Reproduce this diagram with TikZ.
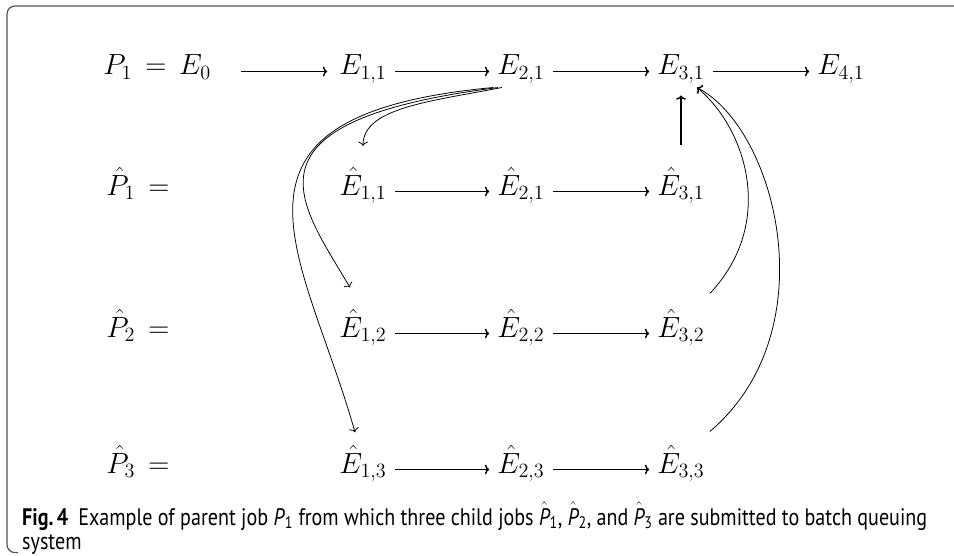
\documentclass[tikz,border=0pt]{standalone}
\usepackage{amsmath}
\usepackage{fontspec}
\usetikzlibrary{arrows.meta,positioning}
\newfontfamily\capfont{PT Sans}
\definecolor{FrameGray}{RGB}{85,85,85}
\tikzset{
  jobnode/.style={inner sep=0.2cm, text height=0.8em, text depth=0.3em, anchor=base},
  jobrow/.style={inner sep=0pt, anchor=base west},
  step arrow/.style={->, line width=1pt},
  sub arrow/.style={->, line width=0.55pt},
  captext/.style={inner sep=0pt, anchor=base west, font=\capfont\fontsize{17}{20}\selectfont, xscale=0.84, transform shape},
}

\begin{document}
\begin{tikzpicture}[>={To[length=3pt,width=7pt]}, every node/.style={font=\fontsize{21.3}{26}\selectfont}]
  \useasboundingbox (0,0) rectangle (23.85,13.875);
  % frame
  \draw[FrameGray, line width=0.9pt, rounded corners=0.2cm] (23.85,13.725) -- (0.175,13.725) -- (0.175,0.06) -- (0.45,0.06);
  % parent job
  \node[jobrow] (P1) at (2.575,12.0) {$P_1 \,=\, E_0$};
  \node[jobnode] (E11) at (9.075,12.0) {$E_{1,1}$};
  \node[jobnode] (E21) at (13.025,12.0) {$E_{2,1}$};
  \node[jobnode] (E31) at (17.025,12.0) {$E_{3,1}$};
  \node[jobnode] (E41) at (21.025,12.0) {$E_{4,1}$};
  % child jobs
  \node[jobrow] (Ph1) at (2.65,9.0) {$\hat{P}_1 \,=$};
  \node[jobrow] (Ph2) at (2.65,5.45) {$\hat{P}_2 \,=$};
  \node[jobrow] (Ph3) at (2.65,2.05) {$\hat{P}_3 \,=$};
  \foreach \r/\y in {1/9.0, 2/5.45, 3/2.05} {
    \node[jobnode] (Eh1\r) at (9.075,\y) {$\hat{E}_{1,\r}$};
    \node[jobnode] (Eh2\r) at (13.025,\y) {$\hat{E}_{2,\r}$};
    \node[jobnode] (Eh3\r) at (17.025,\y) {$\hat{E}_{3,\r}$};
    \draw[step arrow] (Eh1\r) -- (Eh2\r);
    \draw[step arrow] (Eh2\r) -- (Eh3\r);
  }
  \draw[step arrow, shorten <=0.75cm, shorten >=0.1cm] (P1.east |- E11) -- (E11);
  \draw[step arrow] (E11) -- (E21);
  \draw[step arrow] (E21) -- (E31);
  \draw[step arrow] (E31) -- (E41);
  \draw[step arrow, shorten <=0.75cm, shorten >=0.2cm] (Eh31.north) -- (E31.south);
  % ends of the curved arrows
  \coordinate (in1) at ([shift={(0,0.74)}]Eh11.north);
  \coordinate (in2) at ([shift={(-0.325,0.75)}]Eh12.north);
  \coordinate (in3) at ([shift={(-0.2,0.53)}]Eh13.north);
  \coordinate (out2) at ([shift={(-0.075,0.6)}]Eh32.north east);
  \coordinate (out3) at ([shift={(-0.075,0.55)}]Eh33.north east);
  % submitting the child jobs
  \draw[sub arrow] (E21.220) .. controls +(-1.8,-0.35) and +(0,0.95) .. (in1);
  \draw[sub arrow] (E21.215) .. controls +(-6.675,-0.85) and +(-1.25,2.125) .. (in2);
  \draw[sub arrow] (E21.210) .. controls +(-7.5,-0.7) and +(-1.25,4.45) .. (in3);
  \draw[sub arrow] (out2) .. controls +(1.65,1.75) and +(1.25,-1.05) .. (E31.-45);
  \draw[sub arrow] (out3) .. controls +(2.95,2.5) and +(2.0,-1.05) .. (E31.-45);
  % caption
  \node[captext] (cap1) at (0.55,0.75) {\textbf{Fig.\,4}\hspace{0.5em}Example of parent job \textit{P}\textsubscript{1} from which three child jobs $\hat{\mbox{\itshape P}}$\textsubscript{1}, $\hat{\mbox{\itshape P}}$\textsubscript{2}, and $\hat{\mbox{\itshape P}}$\textsubscript{3} are submitted to batch queuing};
  \node[captext] (cap2) at (0.55,0.15) {system};
\end{tikzpicture}
\end{document}
